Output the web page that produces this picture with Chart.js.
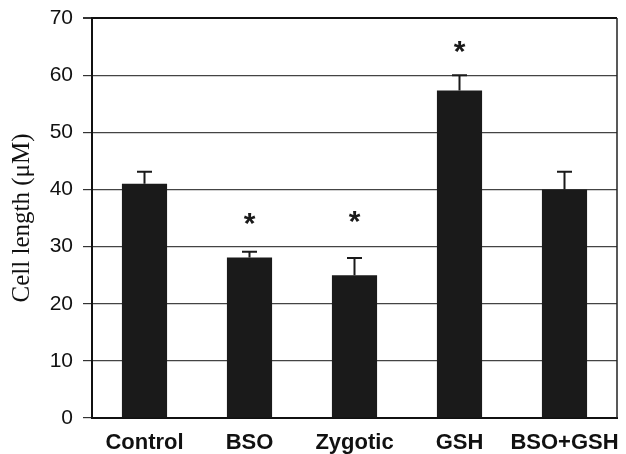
<!DOCTYPE html>
<html>
<head>
<meta charset="utf-8">
<script src="https://cdn.jsdelivr.net/npm/chart.js@4"></script>
<style>
  html, body { margin: 0; padding: 0; background: #fff; }
  #wrap { width: 626px; height: 454px; }
</style>
</head>
<body>
<div id="wrap"><canvas id="c" width="626" height="454"></canvas></div>
<script>
// data
const groups = ["Control", "BSO", "Zygotic", "GSH", "BSO+GSH"];
const cellLength = [41, 28.1, 25, 57.3, 40];
const errUpper = [2.1, 1.0, 3.0, 2.7, 3.1];
const signif = [false, true, true, true, false];
const starAt = [null, 34.8, 35.2, 65, null];
const yTicks = [0, 10, 20, 30, 40, 50, 60, 70];

const ink = "#1a1a1a";

// error bars, asterisks, frame
const extras = {
  id: "extras",
  afterDatasetsDraw(chart) {
    const ctx = chart.ctx, y = chart.scales.y, a = chart.chartArea;
    const meta = chart.getDatasetMeta(0);
    ctx.save();
    ctx.strokeStyle = ink;
    ctx.lineWidth = 2;
    meta.data.forEach((bar, i) => {
      const top = y.getPixelForValue(cellLength[i]);
      const hi = y.getPixelForValue(cellLength[i] + errUpper[i]);
      ctx.beginPath();
      ctx.moveTo(bar.x, top); ctx.lineTo(bar.x, hi);
      ctx.moveTo(bar.x - 7.5, hi); ctx.lineTo(bar.x + 7.5, hi);
      ctx.stroke();
      if (signif[i]) {
        ctx.fillStyle = ink;
        ctx.font = "bold 30px 'Liberation Sans', Arial, sans-serif";
        ctx.textAlign = "center";
        ctx.textBaseline = "middle";
        ctx.fillText("*", bar.x, y.getPixelForValue(starAt[i]) + 6);
      }
    });
    // right border
    ctx.strokeStyle = "#222";
    ctx.lineWidth = 1.5;
    ctx.beginPath();
    ctx.moveTo(a.right, a.top); ctx.lineTo(a.right, a.bottom);
    ctx.stroke();
    ctx.restore();
  }
};

new Chart(document.getElementById("c"), {
  type: "bar",
  data: {
    labels: groups,
    datasets: [{
      data: cellLength,
      backgroundColor: ink,
      borderWidth: 0,
      barPercentage: 0.43,
      categoryPercentage: 1
    }]
  },
  options: {
    responsive: false,
    animation: false,
    layout: { padding: { left: 0, right: 9, top: 18, bottom: 0 } },
    plugins: { legend: { display: false }, tooltip: { enabled: false } },
    scales: {
      x: {
        grid: { display: false },
        border: { color: "#111", width: 2 },
        ticks: {
          color: "#111",
          font: { family: "'Liberation Sans', Arial, sans-serif", size: 22, weight: "bold" },
          padding: 4, maxRotation: 0, minRotation: 0, autoSkip: false
        },
        afterFit: (s) => { s.height = 36; s.paddingLeft = 0; s.paddingRight = 0; }
      },
      y: {
        min: 0, max: 70,
        afterBuildTicks: (s) => { s.ticks = yTicks.map((v) => ({ value: v })); },
        grid: {
          color: (c) => c.tick && c.tick.value === 70 ? "#111" : "#444",
          lineWidth: (c) => c.tick && c.tick.value === 70 ? 2 : 1.2,
          tickLength: 9,
          tickColor: "#333"
        },
        border: { color: "#111", width: 2 },
        ticks: { color: "#111", font: { family: "'Liberation Sans', Arial, sans-serif", size: 21 }, padding: 10 },
        title: {
          display: true,
          text: "Cell length (\u03bcM)",
          color: "#111",
          font: { family: "'Liberation Serif', 'Times New Roman', serif", size: 25 },
          padding: { top: 7, bottom: 4 }
        },
        afterFit: (s) => { s.width = 92; s.paddingTop = 0; s.paddingBottom = 0; }
      }
    }
  },
  plugins: [extras]
});
</script>
</body>
</html>
